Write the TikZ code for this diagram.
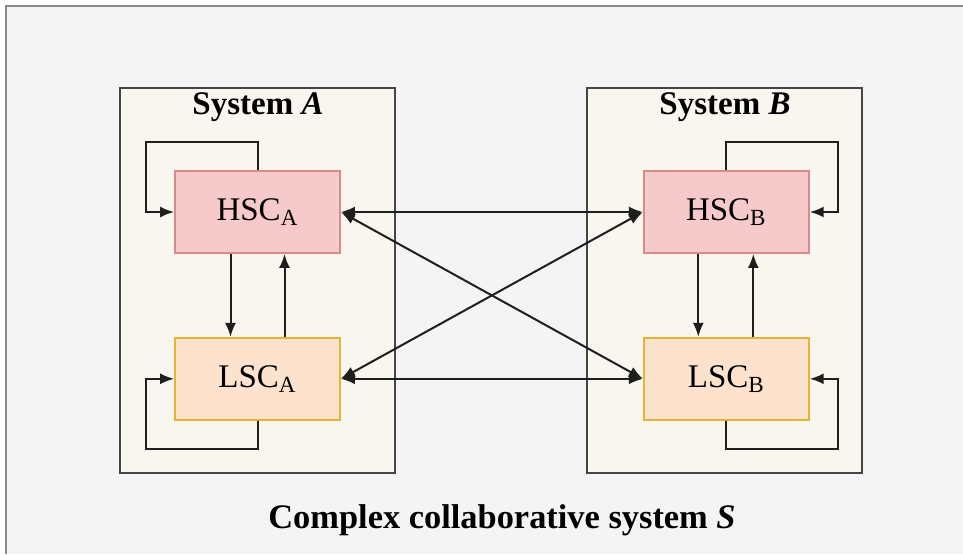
\documentclass[tikz,border=0pt]{standalone}
\usepackage{fontspec}
\setmainfont{Liberation Serif}
\usetikzlibrary{positioning, arrows.meta}

\definecolor{bggray}{HTML}{F4F4F4}
\definecolor{framegray}{HTML}{8A8A8A}
\definecolor{sysfill}{HTML}{F8F6EF}
\definecolor{sysline}{HTML}{454545}
\definecolor{hscfill}{HTML}{F6CACA}
\definecolor{hscline}{HTML}{D88A8C}
\definecolor{lscfill}{HTML}{FDE3CD}
\definecolor{lscline}{HTML}{E2B632}
\definecolor{arrowink}{HTML}{1E1E1E}

\tikzset{
  sysbox/.style={draw=sysline, fill=sysfill, line width=0.8pt, minimum width=137.5pt, minimum height=192.5pt},
  unitbox/.style={line width=0.9pt, minimum width=82.5pt, minimum height=41pt, font=\fontsize{16.5}{20}\selectfont},
  hsc/.style={unitbox, draw=hscline, fill=hscfill},
  lsc/.style={unitbox, draw=lscline, fill=lscfill},
  heading/.style={font=\fontsize{16.5}{20}\selectfont\bfseries},
  link/.style={draw=arrowink, line width=1pt, -{Latex[length=7pt,width=5.5pt]}},
  duplex/.style={link, {Latex[length=7pt,width=5.5pt]}-{Latex[length=7pt,width=5.5pt]}}
}

\begin{document}
\begin{tikzpicture}[x=0.5pt, y=-0.5pt, node distance=41.5pt and 151pt]
  \useasboundingbox (0,0) rectangle (963,554);
  \fill[white] (0,0) rectangle (963,554);
  \fill[bggray] (6,6) rectangle (963,554);
  \draw[framegray, line width=1pt] (6,554) -- (6,6) -- (963,6);

  % the two systems
  \node[sysbox] (sysA) at (257.5,280.5) {};
  \node[sysbox] (sysB) at (724.5,280.5) {};
  \node[heading] (titleA) at (258,107) {System \textit{A}};
  \node[heading] (titleB) at (725,107) {System \textit{B}};

  % controllers
  \node[hsc] (hscA) at (257.5,212) {HSC\textsubscript{A}};
  \node[lsc, below=of hscA] (lscA) {LSC\textsubscript{A}};
  \node[hsc, right=of hscA] (hscB) {HSC\textsubscript{B}};
  \node[lsc, below=of hscB] (lscB) {LSC\textsubscript{B}};

  % self loops
  \draw[link] (hscA.north) -- ++(0,-28) -| ([xshift=-14pt]hscA.west) -- (hscA.west);
  \draw[link] (lscA.south) -- ++(0,28) -| ([xshift=-14pt]lscA.west) -- (lscA.west);
  \draw[link] (hscB.north) -- ++(0,-28) -| ([xshift=14pt]hscB.east) -- (hscB.east);
  \draw[link] (lscB.south) -- ++(0,28) -| ([xshift=14pt]lscB.east) -- (lscB.east);

  % inside each system
  \draw[link] ([xshift=-13.5pt]hscA.south) -- ([xshift=-13.5pt]lscA.north);
  \draw[link] ([xshift=13.5pt]lscA.north) -- ([xshift=13.5pt]hscA.south);
  \draw[link] ([xshift=-14pt]hscB.south) -- ([xshift=-14pt]lscB.north);
  \draw[link] ([xshift=13.5pt]lscB.north) -- ([xshift=13.5pt]hscB.south);

  % across systems
  \draw[duplex] (hscA.east) -- (hscB.west);
  \draw[duplex] (lscA.east) -- (lscB.west);
  \draw[duplex] (hscA.east) -- (lscB.west);
  \draw[duplex] (lscA.east) -- (hscB.west);

  \node[heading, font=\fontsize{17.2}{21}\selectfont\bfseries] (caption) at (502,520) {Complex collaborative system \textit{S}};
\end{tikzpicture}
\end{document}
